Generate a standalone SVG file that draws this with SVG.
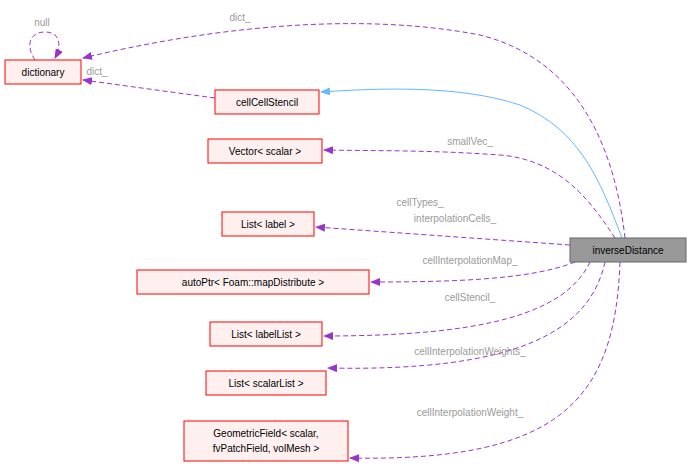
<svg xmlns="http://www.w3.org/2000/svg" width="691" height="467" viewBox="0 0 691 467">
<style>
.n rect{fill:#fff0f0;stroke:#ff0000;stroke-width:1}
.n text,.m text{font-family:"Liberation Sans",Arial,sans-serif;font-size:10px;fill:#000;text-anchor:middle}
.e{fill:none;stroke:#9a32cd;stroke-dasharray:5,3}
.l{font-family:"Liberation Sans",Arial,sans-serif;font-size:10px;fill:#9a9a9a;text-anchor:middle}
</style>
<defs>
<marker id="a" markerWidth="10" markerHeight="8" refX="9" refY="4" orient="auto" markerUnits="userSpaceOnUse"><path d="M0,0L10,4L0,8z" fill="#9a32cd"/></marker>
<marker id="b" markerWidth="10" markerHeight="8" refX="9" refY="4" orient="auto" markerUnits="userSpaceOnUse"><path d="M0,0L10,4L0,8z" fill="#63b8ff"/></marker>
</defs>
<g id="edges">
<path class="e" marker-end="url(#a)" d="M625,238 C615,150 580,60 480,35 C350,10 200,30 83,58"/>
<text class="l" x="240" y="21">dict_</text>
<path class="e" marker-end="url(#a)" d="M35,60 C25,45 30,32 45,32 C60,32 62,45 55,58"/>
<text class="l" x="42" y="26">null</text>
<path class="e" marker-end="url(#a)" d="M215,98 L83,80"/>
<text class="l" x="97" y="75">dict_</text>
<path fill="none" stroke="#63b8ff" marker-end="url(#b)" d="M622,238 C600,180 580,130 520,105 C460,85 380,88 321,92"/>
<path class="e" marker-end="url(#a)" d="M615,238 C590,200 560,160 500,155 C430,150 380,151 324,150"/>
<text class="l" x="470" y="145">smallVec_</text>
<path class="e" marker-end="url(#a)" d="M570,245 L316,227"/>
<text class="l" x="420" y="206">cellTypes_</text>
<text class="l" x="455" y="222">interpolationCells_</text>
<path class="e" marker-end="url(#a)" d="M575,262 C530,280 450,282 371,282"/>
<text class="l" x="470" y="264">cellInterpolationMap_</text>
<path class="e" marker-end="url(#a)" d="M590,262 C565,315 480,336 324,336"/>
<text class="l" x="470" y="301">cellStencil_</text>
<path class="e" marker-end="url(#a)" d="M605,262 C590,330 520,372 328,368"/>
<text class="l" x="470" y="355">cellInterpolationWeights_</text>
<path class="e" marker-end="url(#a)" d="M620,262 C615,400 560,462 350,458"/>
<text class="l" x="470" y="416">cellInterpolationWeight_</text>
</g>
<g id="dictionary" class="n"><rect x="5" y="60" width="76" height="24"/><text x="43" y="76">dictionary</text></g>
<g id="cellCellStencil" class="n"><rect x="215" y="90" width="104" height="24"/><text x="267" y="106">cellCellStencil</text></g>
<g id="vector" class="n"><rect x="208" y="139" width="114" height="24"/><text x="265" y="155">Vector&lt; scalar &gt;</text></g>
<g id="listlabel" class="n"><rect x="222" y="212" width="92" height="24"/><text x="268" y="228">List&lt; label &gt;</text></g>
<g id="autoptr" class="n"><rect x="137" y="270" width="232" height="24"/><text x="253" y="286">autoPtr&lt; Foam::mapDistribute &gt;</text></g>
<g id="listlabellist" class="n"><rect x="210" y="322" width="112" height="24"/><text x="266" y="338">List&lt; labelList &gt;</text></g>
<g id="listscalarlist" class="n"><rect x="206" y="371" width="120" height="24"/><text x="266" y="387">List&lt; scalarList &gt;</text></g>
<g id="geometricfield" class="n"><rect x="184" y="421" width="164" height="40"/><text x="266" y="437">GeometricField&lt; scalar,</text><text x="266" y="452">fvPatchField, volMesh &gt;</text></g>
<g id="inverseDistance" class="m"><rect x="570" y="238" width="116" height="24" fill="#999999" stroke="#666666"/><text x="628" y="254">inverseDistance</text></g>
</svg>
